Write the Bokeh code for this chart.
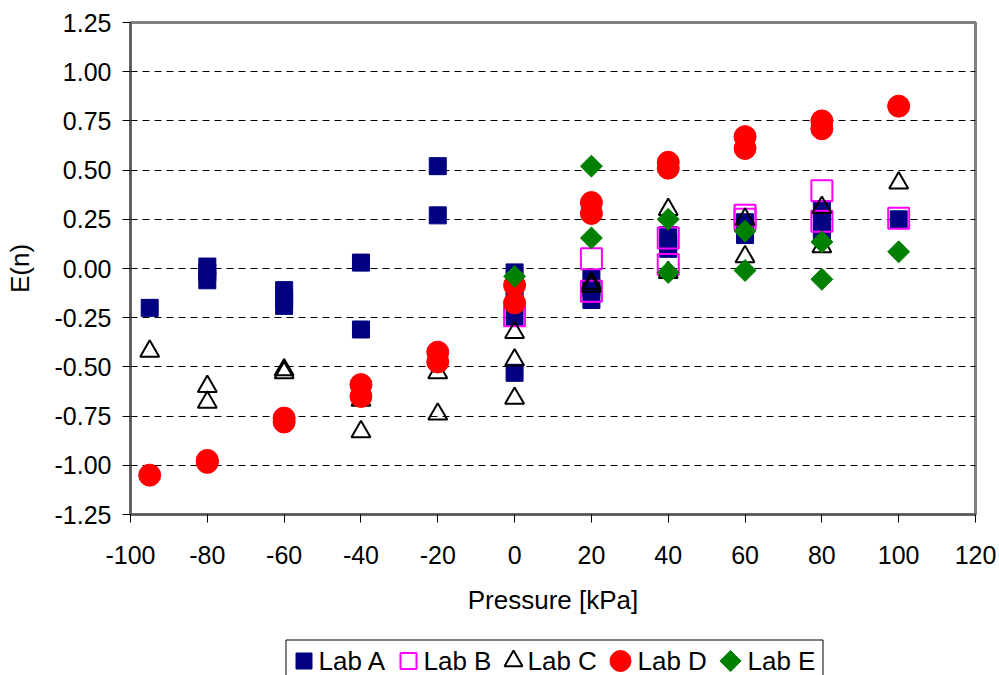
import math
from bokeh.plotting import figure
from bokeh.layouts import column
from bokeh.models import Range1d, FixedTicker, NumeralTickFormatter
from bokeh.core.properties import value
from bokeh.embed import file_html
from bokeh.resources import INLINE

# ---- data ----
lab_a_x = [-95, -80, -80, -80, -60, -60, -60, -40, -40, -20, -20, 0, 0, 0, 0,
           20, 20, 20, 40, 40, 40, 60, 60, 80, 80, 80, 100]
lab_a_y = [-0.20, 0.01, -0.02, -0.06, -0.11, -0.15, -0.19, 0.03, -0.31, 0.52, 0.27,
           -0.02, -0.12, -0.25, -0.53, -0.05, -0.10, -0.16, 0.17, 0.13, 0.10,
           0.235, 0.17, 0.30, 0.24, 0.18, 0.25]

lab_b_x = [0, 20, 20, 40, 40, 60, 60, 80, 80, 100]
lab_b_y = [-0.24, 0.05, -0.115, 0.155, 0.02, 0.27, 0.25, 0.395, 0.24, 0.255]

lab_c_x = [-95, -80, -80, -60, -60, -40, -40, -20, -20, 0, 0, 0,
           20, 20, 40, 40, 60, 60, 80, 80, 100]
lab_c_y = [-0.42, -0.60, -0.68, -0.515, -0.53, -0.67, -0.83, -0.53, -0.74,
           -0.325, -0.465, -0.66, -0.075, -0.09, 0.30, -0.02, 0.25, 0.06,
           0.31, 0.11, 0.435]

lab_d_x = [-95, -80, -80, -60, -60, -40, -40, -20, -20, 0, 0,
           20, 20, 40, 40, 60, 60, 80, 80, 100]
lab_d_y = [-1.05, -0.975, -0.985, -0.76, -0.78, -0.59, -0.65, -0.425, -0.475,
           -0.085, -0.175, 0.335, 0.28, 0.54, 0.51, 0.67, 0.61, 0.75, 0.71, 0.825]

lab_e_x = [0, 20, 20, 40, 40, 60, 60, 80, 80, 100]
lab_e_y = [-0.04, 0.52, 0.155, 0.25, -0.02, 0.19, -0.01, 0.135, -0.055, 0.085]

series_labels = ["Lab A", "Lab B", "Lab C", "Lab D", "Lab E"]
x_ticks = [-100, -80, -60, -40, -20, 0, 20, 40, 60, 80, 100, 120]
y_ticks = [-1.25, -1.0, -0.75, -0.5, -0.25, 0.0, 0.25, 0.5, 0.75, 1.0, 1.25]
grid_ticks = [-1.0, -0.75, -0.5, -0.25, 0.0, 0.25, 0.5, 0.75, 1.0]

FONT = "Liberation Sans"
FS_TICK = "25px"
FS_TITLE = "26px"

# ---- marker styles (one per series) ----
styles = [
    dict(marker="square", size=17, fill_color="#000080", line_color="#000080", line_width=1, angle=0.0),
    dict(marker="square", size=21, fill_color=None, line_color="#FF00FF", line_width=2, angle=0.0),
    dict(marker="triangle", size=19, fill_color=None, line_color="black", line_width=2, angle=0.0),
    dict(marker="circle", size=22, fill_color="#FF0000", line_color="#FF0000", line_width=1, angle=0.0),
    dict(marker="square", size=15.5, fill_color="#008000", line_color="#008000", line_width=1, angle=math.pi / 4),
]
legend_styles = [
    dict(size=16, line_width=1),
    dict(size=16, line_width=2),
    dict(size=18, line_width=2),
    dict(size=21, line_width=1),
    dict(size=15, line_width=1),
]

FRAME_L, FRAME_R = 130, 975

p = figure(width=999, height=628, output_backend="svg", toolbar_location=None,
           x_range=Range1d(-100, 120), y_range=Range1d(-1.25, 1.25),
           min_border_left=FRAME_L, min_border_right=999 - FRAME_R, min_border_top=22,
           min_border_bottom=114, background_fill_color="white",
           border_fill_color="white")

p.outline_line_color = "#808080"
p.outline_line_width = 3

p.xgrid.visible = False
p.ygrid.ticker = FixedTicker(ticks=grid_ticks)
p.ygrid.grid_line_color = "black"
p.ygrid.grid_line_dash = "7 5"
p.ygrid.grid_line_width = 1

for ax in (p.xaxis[0], p.yaxis[0]):
    ax.axis_line_color = "#555555"
    ax.axis_line_width = 2
    ax.major_tick_line_color = "black"
    ax.major_tick_in = 0
    ax.major_tick_out = 8
    ax.minor_tick_line_color = None
    ax.major_label_text_font = FONT
    ax.major_label_text_font_size = FS_TICK
    ax.major_label_text_color = "black"
    ax.axis_label_text_font = FONT
    ax.axis_label_text_font_size = FS_TITLE
    ax.axis_label_text_font_style = "normal"
    ax.axis_label_text_color = "black"

p.xaxis.ticker = FixedTicker(ticks=x_ticks)
p.xaxis.formatter = NumeralTickFormatter(format="0")
p.yaxis.ticker = FixedTicker(ticks=y_ticks)
p.yaxis.formatter = NumeralTickFormatter(format="0.00")
p.xaxis.axis_label = "Pressure [kPa]"
p.yaxis.axis_label = "E(n)"
p.xaxis.major_label_standoff = 23
p.yaxis.major_label_standoff = 11
p.xaxis.axis_label_standoff = 18
p.yaxis.axis_label_standoff = 17

xs = [lab_a_x, lab_b_x, lab_c_x, lab_d_x, lab_e_x]
ys = [lab_a_y, lab_b_y, lab_c_y, lab_d_y, lab_e_y]
for x, y, st in zip(xs, ys, styles):
    p.scatter(x, y, **st)

# ---- legend strip (separate figure, pixel coordinates, y down) ----
LH = 47
lg = figure(width=999, height=LH, output_backend="svg", toolbar_location=None,
            x_range=Range1d(FRAME_L, FRAME_R), y_range=Range1d(LH, 0),
            x_axis_type=None, y_axis_type=None,
            min_border_left=FRAME_L, min_border_right=999 - FRAME_R,
            min_border_top=0, min_border_bottom=0,
            background_fill_color="white", border_fill_color="white")
lg.outline_line_color = None
lg.xgrid.visible = False
lg.ygrid.visible = False

box_left, box_right, box_top, box_bottom = 285.5, 822.5, 11.5, 52
lg.quad(left=[box_left], right=[box_right], top=[box_top], bottom=[box_bottom],
        fill_color="white", line_color="black", line_width=1)

glyph_cx = [303.5, 408, 513, 620, 730]
text_x = [318, 423, 527, 637, 747]
row_y = 32.5
for i, (st, ls) in enumerate(zip(styles, legend_styles)):
    s = dict(st)
    s.update(ls)
    lg.scatter([glyph_cx[i]], [row_y], **s)
lg.text(x=text_x, y=[row_y] * 5, text=series_labels,
        text_font=value(FONT), text_font_size=FS_TITLE, text_color="black",
        text_align="left", text_baseline="middle")

layout = column(p, lg, spacing=0)
open("out.html", "w").write(file_html(layout, INLINE))
